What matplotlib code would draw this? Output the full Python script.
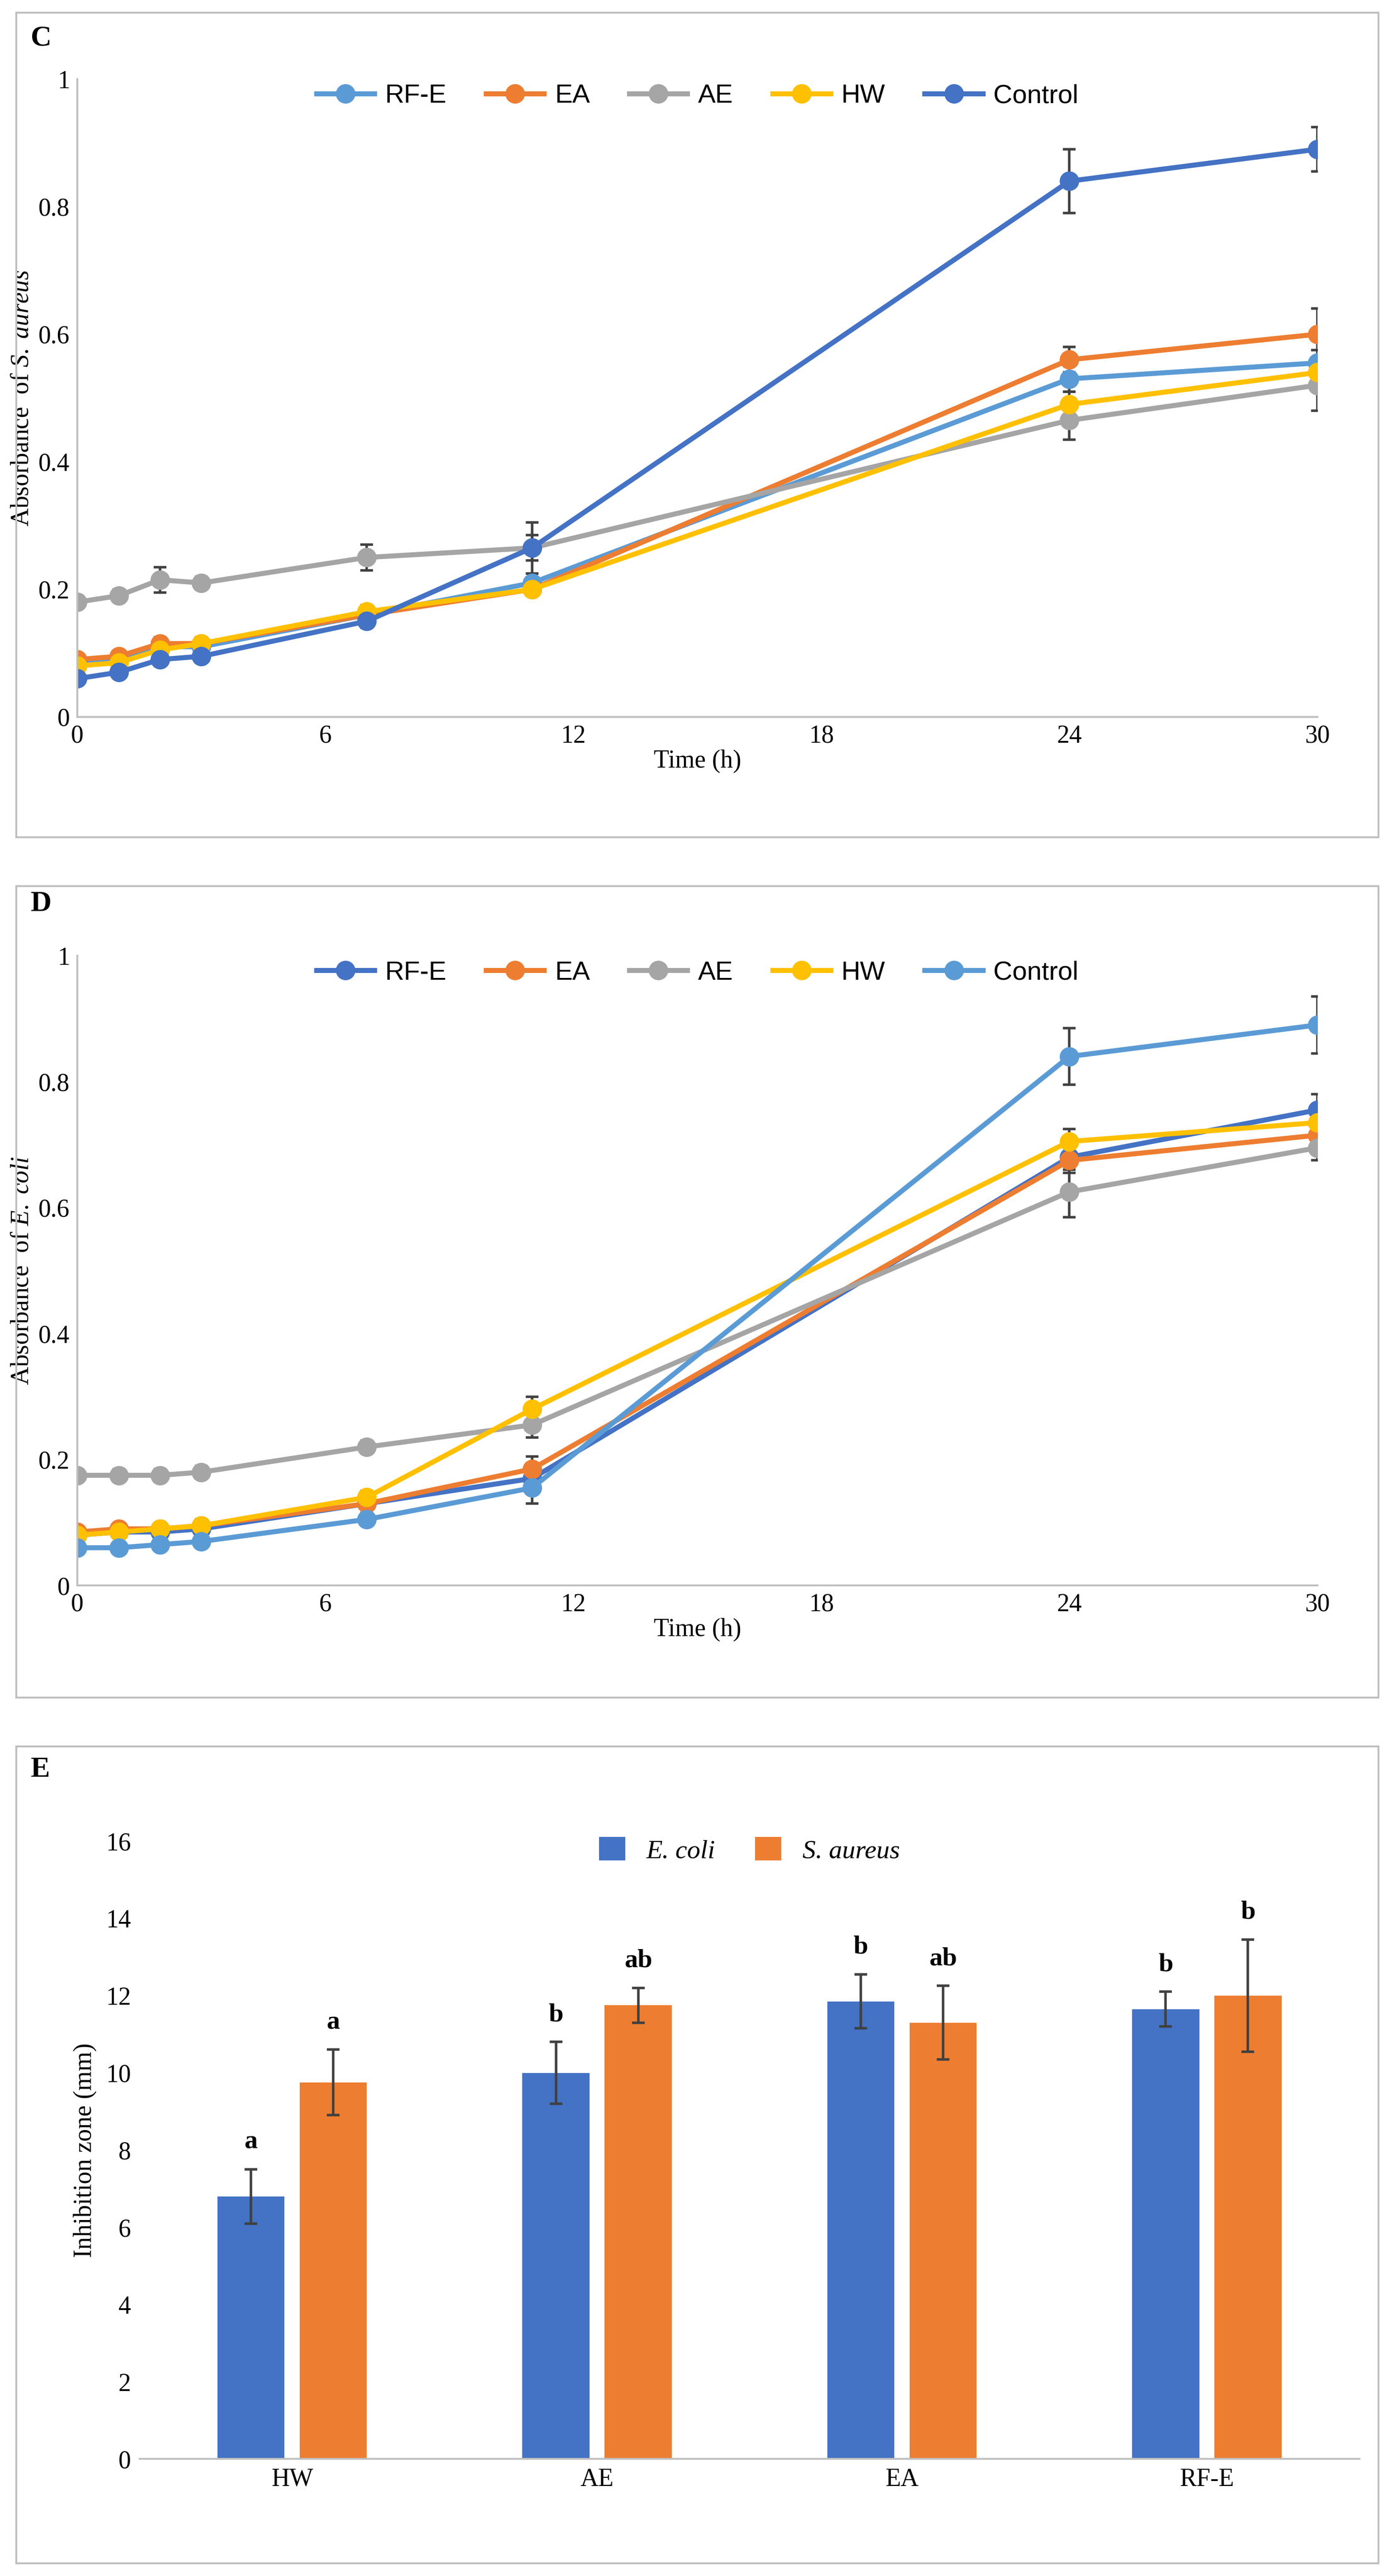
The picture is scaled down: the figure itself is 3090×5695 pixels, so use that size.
import matplotlib
matplotlib.use("Agg")
import matplotlib.pyplot as plt
from matplotlib.patches import Rectangle
from matplotlib.lines import Line2D
import numpy as np

time = [0, 1, 2, 3, 7, 11, 24, 30]
series_names = ["RF-E", "EA", "AE", "HW", "Control"]

c_rfe = [0.085, 0.09, 0.11, 0.11, 0.16, 0.21, 0.53, 0.555]
c_ea = [0.09, 0.095, 0.115, 0.115, 0.16, 0.20, 0.56, 0.60]
c_ae = [0.18, 0.19, 0.215, 0.21, 0.25, 0.265, 0.465, 0.52]
c_hw = [0.08, 0.085, 0.105, 0.115, 0.165, 0.20, 0.49, 0.54]
c_ctl = [0.06, 0.07, 0.09, 0.095, 0.15, 0.265, 0.84, 0.89]
c_err_rfe = [0.005, 0.005, 0.01, 0.01, 0.01, 0.015, 0.02, 0.02]
c_err_ea = [0.005, 0.005, 0.01, 0.01, 0.01, 0.01, 0.02, 0.04]
c_err_ae = [0.01, 0.01, 0.02, 0.01, 0.02, 0.02, 0.03, 0.04]
c_err_hw = [0.005, 0.005, 0.01, 0.01, 0.01, 0.01, 0.02, 0.02]
c_err_ctl = [0.005, 0.005, 0.01, 0.01, 0.01, 0.04, 0.05, 0.035]

d_rfe = [0.08, 0.085, 0.085, 0.09, 0.13, 0.17, 0.68, 0.755]
d_ea = [0.085, 0.09, 0.09, 0.095, 0.13, 0.185, 0.675, 0.715]
d_ae = [0.175, 0.175, 0.175, 0.18, 0.22, 0.255, 0.625, 0.695]
d_hw = [0.08, 0.085, 0.09, 0.095, 0.14, 0.28, 0.705, 0.735]
d_ctl = [0.06, 0.06, 0.065, 0.07, 0.105, 0.155, 0.84, 0.89]
d_err_rfe = [0.005, 0.005, 0.005, 0.01, 0.01, 0.02, 0.02, 0.025]
d_err_ea = [0.005, 0.005, 0.005, 0.01, 0.01, 0.02, 0.02, 0.02]
d_err_ae = [0.01, 0.01, 0.01, 0.01, 0.01, 0.02, 0.04, 0.02]
d_err_hw = [0.005, 0.005, 0.005, 0.01, 0.01, 0.02, 0.02, 0.02]
d_err_ctl = [0.005, 0.005, 0.005, 0.01, 0.01, 0.025, 0.045, 0.045]

e_cats = ["HW", "AE", "EA", "RF-E"]
e_coli = [6.8, 10.0, 11.85, 11.65]
e_coli_err = [0.7, 0.8, 0.7, 0.45]
s_aureus = [9.75, 11.75, 11.3, 12.0]
s_aureus_err = [0.85, 0.45, 0.95, 1.45]
e_coli_letters = ["a", "b", "b", "b"]
s_aureus_letters = ["a", "ab", "ab", "b"]

LB, OR, GR, YE, DB = "#5B9BD5", "#ED7D31", "#A5A5A5", "#FFC000", "#4472C4"
SERIF = "Liberation Serif"
SANS = "Liberation Sans"
TICK = 40

plt.rcParams["mathtext.fontset"] = "custom"
plt.rcParams["mathtext.it"] = "Liberation Serif:italic"
plt.rcParams["mathtext.rm"] = "Liberation Serif"

fig = plt.figure(figsize=(30.9, 56.95), dpi=100)

for b, h in [(0.675, 0.320), (0.341, 0.315), (0.005, 0.317)]:
    fig.add_artist(Rectangle((0.0118, b), 0.975, h, transform=fig.transFigure,
                             fill=False, edgecolor="#BFBFBF", linewidth=3))

def line_panel(rect, data, errs, colors, ylabel_species, letter, lbl_y):
    ax = fig.add_axes(rect)
    handles = []
    for name, y, e, c in zip(series_names, data, errs, colors):
        ax.errorbar(time, y, yerr=e, color=c, marker="o", markersize=30, linewidth=8,
                    ecolor="#404040", elinewidth=4, capsize=10, capthick=4)
        handles.append(Line2D([], [], color=c, marker="o", markersize=30, linewidth=8, label=name))
    ax.set_xlim(0, 30)
    ax.set_ylim(0, 1)
    ax.set_xticks([0, 6, 12, 18, 24, 30])
    ax.set_yticks([0, 0.2, 0.4, 0.6, 0.8, 1])
    ax.set_yticklabels(["0", "0.2", "0.4", "0.6", "0.8", "1"])
    for s in ["top", "right"]:
        ax.spines[s].set_visible(False)
    for s in ["left", "bottom"]:
        ax.spines[s].set_color("#BFBFBF")
        ax.spines[s].set_linewidth(3)
    ax.tick_params(length=0, labelsize=TICK, pad=12)
    for t in ax.get_xticklabels() + ax.get_yticklabels():
        t.set_fontfamily(SERIF)
    ax.set_xlabel("Time (h)", fontsize=TICK, fontfamily=SERIF, labelpad=2)
    ax.set_ylabel("Absorbance  of " + r"$\it{" + ylabel_species.replace(" ", r"\ ") + "}$",
                  fontsize=TICK, fontfamily=SERIF, labelpad=8)
    ax.legend(handles=handles, loc="upper center", bbox_to_anchor=(0.5, 1.03), ncol=5,
              frameon=False, prop={"family": SANS, "size": 42}, handlelength=2.2,
              columnspacing=1.5, handletextpad=0.4)
    fig.text(0.022, lbl_y, letter, fontsize=46, fontweight="bold", fontfamily=SERIF, va="top")
    return ax

line_panel([0.0554, 0.7217, 0.8876, 0.2476],
           [c_rfe, c_ea, c_ae, c_hw, c_ctl],
           [c_err_rfe, c_err_ea, c_err_ae, c_err_hw, c_err_ctl],
           [LB, OR, GR, YE, DB], "S. aureus", "C", 0.990)
line_panel([0.0554, 0.3845, 0.8876, 0.2445],
           [d_rfe, d_ea, d_ae, d_hw, d_ctl],
           [d_err_rfe, d_err_ea, d_err_ae, d_err_hw, d_err_ctl],
           [DB, OR, GR, YE, LB], "E. coli", "D", 0.654)

ax = fig.add_axes([0.100, 0.0454, 0.873, 0.2399])
x = np.arange(len(e_cats))
w = 0.22
ax.bar(x - 0.135, e_coli, w, color=DB, label="E. coli",
       yerr=e_coli_err, ecolor="#404040", error_kw=dict(elinewidth=4, capsize=10, capthick=4))
ax.bar(x + 0.135, s_aureus, w, color=OR, label="S. aureus",
       yerr=s_aureus_err, ecolor="#404040", error_kw=dict(elinewidth=4, capsize=10, capthick=4))
for i in range(len(e_cats)):
    ax.text(x[i] - 0.135, e_coli[i] + e_coli_err[i] + 0.4, e_coli_letters[i], ha="center",
            va="bottom", fontsize=42, fontweight="bold", fontfamily=SERIF)
    ax.text(x[i] + 0.135, s_aureus[i] + s_aureus_err[i] + 0.4, s_aureus_letters[i], ha="center",
            va="bottom", fontsize=42, fontweight="bold", fontfamily=SERIF)
ax.set_xlim(-0.5, 3.5)
ax.set_ylim(0, 16)
ax.set_yticks(range(0, 17, 2))
ax.set_xticks(x)
ax.set_xticklabels(e_cats)
for s in ["top", "right", "left"]:
    ax.spines[s].set_visible(False)
ax.spines["bottom"].set_color("#BFBFBF")
ax.spines["bottom"].set_linewidth(3)
ax.tick_params(length=0, labelsize=TICK, pad=14)
for t in ax.get_xticklabels() + ax.get_yticklabels():
    t.set_fontfamily(SERIF)
ax.set_ylabel("Inhibition zone (mm)", fontsize=TICK, fontfamily=SERIF, labelpad=14)
ax.legend(loc="upper center", bbox_to_anchor=(0.5, 1.045), ncol=2, frameon=False,
          prop={"family": SERIF, "style": "italic", "size": 42}, handlelength=1.0,
          handleheight=1.0, columnspacing=1.5)
fig.text(0.022, 0.318, "E", fontsize=46, fontweight="bold", fontfamily=SERIF, va="top")

fig.savefig("out.png", dpi=100, facecolor="white")
